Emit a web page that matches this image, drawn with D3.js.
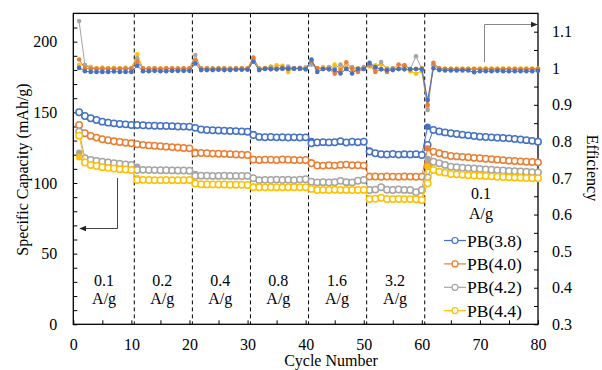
<!DOCTYPE html>
<html><head><meta charset="utf-8">
<script src="https://cdn.jsdelivr.net/npm/d3@7"></script>
<style>html,body{margin:0;padding:0;background:#fff;}svg{display:block;}svg text{font-family:"Liberation Serif","Times New Roman",serif;}</style>
</head><body>
<svg id="chart" width="602" height="370" font-family="Liberation Serif, Times New Roman, serif"></svg>
<script>
// ---------- DATA ----------
const cycles = d3.range(1, 81);
const seriesNames = ["PB(3.8)", "PB(4.0)", "PB(4.2)", "PB(4.4)"];
const seriesColors = ["#4472C4", "#ED7D31", "#A5A5A5", "#FFC000"];

const cap38 = [150,147.4,145.8,144.6,143.4,142.7,142.2,141.7,141.5,141.0,
 141.0,140.8,140.6,140.5,140.4,140.3,140.2,140.0,139.9,139.8,
 139.0,137.8,137.5,137.3,137.1,137.0,136.8,136.7,136.5,136.3,
 134.0,132.6,132.4,132.5,132.3,132.4,132.2,132.3,132.2,132.3,
 128.1,128.6,128.9,128.7,128.8,129.6,128.6,129.2,128.8,129.2,
 122.2,121.0,120.3,120.2,120.5,120.1,120.3,120.2,120.4,119.8,
 127.0,137.5,136.5,135.8,135.2,134.7,134.2,133.7,133.2,132.8,
 132.5,132.3,132.0,131.8,131.6,131.2,130.8,130.3,129.8,129.2];
const cap40 = [141.0,135.2,133.3,132.1,130.9,130.2,129.5,129.0,128.5,128.1,
 127.4,127.0,126.6,126.3,126.0,125.7,125.4,125.1,124.8,124.5,
 121.0,121.2,121.0,120.8,120.7,120.6,120.4,120.2,120.0,119.8,
 116.5,116.3,116.5,116.4,116.3,116.6,116.4,116.3,116.2,116.3,
 114.0,112.4,112.3,112.5,112.3,112.8,113.0,112.5,112.6,112.3,
 104.5,104.6,104.4,104.6,104.5,104.4,104.6,104.5,104.4,104.5,
 112.0,122.2,121.0,120.0,119.1,118.8,118.5,118.2,117.8,117.5,
 117.2,116.9,116.5,116.2,115.8,115.6,115.3,115.0,114.8,114.6];
const cap42 = [136.3,117.5,116.3,115.6,115.0,114.6,114.0,113.6,113.2,112.8,
 109.2,109.3,109.2,109.1,109.0,109.0,108.9,108.8,108.8,108.7,
 105.0,105.2,105.1,105.0,105.0,105.1,105.0,105.0,104.9,105.0,
 103.3,102.0,102.2,102.1,102.4,102.1,102.3,102.0,102.4,102.6,
 100.9,100.4,100.6,100.3,100.5,101.5,100.6,100.4,101.6,102.1,
 95.0,95.3,97.0,95.2,95.0,95.4,95.1,95.0,93.5,95.0,
 104.0,115.0,114.0,112.8,111.5,111.2,110.8,110.5,110.2,109.9,
 109.6,109.4,109.1,108.8,108.5,108.3,108.1,107.9,107.7,107.5];
const cap44 = [133.5,114.5,112.7,112.0,111.2,110.7,110.2,109.8,109.5,109.2,
 102.1,102.2,102.1,102.0,102.0,102.1,102.0,102.0,102.0,102.1,
 99.6,99.1,99.0,99.0,98.9,98.9,98.8,98.8,98.7,98.6,
 97.0,97.0,96.9,97.0,97.0,96.9,97.0,97.0,96.9,97.0,
 95.8,95.0,95.1,95.0,95.2,95.0,95.1,95.0,95.0,95.1,
 88.7,88.8,89.6,88.7,88.6,88.7,88.6,88.6,88.5,88.0,
 99.8,109.2,108.0,107.3,106.4,106.1,105.8,105.5,105.3,105.2,
 104.9,104.7,104.4,104.2,104.0,103.8,103.7,103.5,103.4,103.3];

// visible filled (charge) capacity points: [cycle, value]
const charge38 = [[11,141.0],[21,139.2],[31,134.5],[41,129.8],[51,123.0],[60,119.8],[61,139.8],[62,137.5]];
const charge40 = [[21,122.2],[31,117.0],[41,114.5],[51,105.2],[60,104.5],[61,124.5],[62,122.2]];
const charge42 = [[1,121.4],[2,117.5],[11,111.5],[21,106.4],[31,103.5],[60,95.0],[61,117.0],[62,115.0]];
const charge44 = [[1,118.2],[2,114.5],[11,103.3],[21,99.8],[31,97.3],[60,88.0],[61,111.5],[62,109.2]];

const eff38 = [1.001,0.992,0.990,0.990,0.990,0.990,0.991,0.990,0.990,0.990,
 1.007,0.992,0.992,0.993,0.992,0.992,0.993,0.993,0.993,0.993,
 1.013,0.995,0.995,0.995,0.996,0.995,0.995,0.996,0.996,0.996,
 1.018,0.995,0.998,0.998,0.997,0.999,0.999,0.999,0.999,0.997,
 1.024,0.990,0.998,0.997,0.995,0.986,0.998,0.986,0.998,0.998,
 1.015,1.003,0.997,0.995,0.995,0.998,0.997,0.997,0.998,0.997,
 0.913,1.000,0.995,0.994,0.994,0.994,0.994,0.994,0.989,0.992,
 0.992,0.992,0.993,0.992,0.992,0.992,0.992,0.992,0.992,0.993];
const eff40 = [1.024,1.000,0.998,0.999,0.998,0.999,0.998,0.999,0.998,0.999,
 1.018,0.999,0.998,0.999,0.998,0.999,0.999,0.998,0.999,0.999,
 1.022,0.999,0.999,0.998,0.999,0.999,0.998,0.999,0.999,0.999,
 1.029,0.998,1.000,0.997,0.999,1.002,0.998,1.000,0.999,0.998,
 1.020,1.000,0.998,0.998,0.985,0.995,1.016,0.998,0.990,0.998,
 1.010,0.990,0.998,0.990,0.998,1.010,1.008,0.998,0.998,1.000,
 0.900,1.015,1.000,0.998,0.998,0.997,0.998,0.997,0.998,0.997,
 0.998,0.998,0.997,0.998,0.998,0.998,0.997,0.998,0.998,0.998];
const eff42 = [1.129,1.009,1.000,0.998,0.999,0.998,0.999,0.998,0.999,0.999,
 1.027,0.999,0.999,0.999,0.998,0.999,0.999,0.999,0.999,0.999,
 1.036,0.999,0.999,0.999,0.999,0.999,0.999,0.999,0.999,0.999,
 1.026,0.999,1.000,1.003,1.000,0.999,1.005,0.999,1.000,1.000,
 1.010,1.000,0.999,1.003,0.999,1.010,0.999,1.003,0.999,1.003,
 1.008,0.998,1.017,0.998,1.000,0.998,1.008,0.998,1.033,0.998,
 0.886,1.008,0.998,0.998,0.998,0.998,0.998,0.998,0.998,0.998,
 0.998,0.998,0.998,0.998,0.998,0.998,0.998,0.998,0.998,0.998];
const eff44 = [1.009,1.009,1.004,1.000,1.002,1.000,1.001,1.000,1.002,1.000,
 1.038,1.000,1.000,1.000,1.000,1.000,1.000,1.000,1.000,1.000,
 1.018,1.000,1.000,1.000,1.000,1.000,1.000,1.000,1.000,1.000,
 1.022,1.000,1.000,1.005,1.008,1.007,0.990,1.000,1.002,1.003,
 1.012,1.000,1.003,1.000,1.010,1.000,1.003,1.000,1.000,1.000,
 1.005,1.008,1.010,1.000,1.000,0.998,1.000,0.992,0.985,0.992,
 0.895,1.010,0.999,0.999,0.999,0.999,0.999,0.999,0.999,0.999,
 0.999,0.999,0.999,0.999,0.999,0.999,0.999,0.999,0.999,0.999];

const capacities = [cap38, cap40, cap42, cap44];
const charges = [charge38, charge40, charge42, charge44];
const efficiencies = [eff38, eff40, eff42, eff44];

const xTicks = [0,10,20,30,40,50,60,70,80];
const xMinorTicks = [5,15,25,35,45,55,65,75];
const yLeftTicks = [0,50,100,150,200];
const yLeftMinor = [10,20,30,40,60,70,80,90,110,120,130,140,160,170,180,190,210];
const yRightTicks = [0.3,0.4,0.5,0.6,0.7,0.8,0.9,1.0,1.1];
const yRightTickLabels = ["0.3","0.4","0.5","0.6","0.7","0.8","0.9","1","1.1"];
const yRightMinor = [0.35,0.45,0.55,0.65,0.75,0.85,0.95,1.05];
const stepBoundaries = [10.5,20.5,30.5,40.5,50.5,60.5];
const stepRates = ["0.1","0.2","0.4","0.8","1.6","3.2"];
const stepCenters = [5.3,15.3,25.3,35.3,45.4,55.4];
const finalRate = "0.1";

// ---------- CHART ----------
const FONT = "Liberation Serif, Times New Roman, serif";
const svg = d3.select("#chart");
const x = d3.scaleLinear().domain([0,80]).range([73.3,538]);
const yL = d3.scaleLinear().domain([0,220]).range([324.3,13.4]);
const yR = d3.scaleLinear().domain([0.3,1.15]).range([324.3,13.4]);
const FS = 16;

// dashed step lines
svg.append("g").selectAll("line").data(stepBoundaries).join("line")
  .attr("x1", d=>x(d)).attr("x2", d=>x(d)).attr("y1", yL.range()[1]).attr("y2", yL.range()[0])
  .attr("stroke","#000").attr("stroke-width",1).attr("stroke-dasharray","4,3");

// axes
function styleAxis(g){
  g.select(".domain").remove();
  g.attr("font-family", FONT);
  g.selectAll(".tick line").attr("stroke","#000").attr("stroke-width",1);
  g.selectAll("text").attr("font-size",FS).attr("fill","#000").attr("font-family",FONT);
}
svg.append("g").attr("transform",`translate(0,${yL.range()[0]})`)
  .call(d3.axisBottom(x).tickValues(xTicks).tickSize(-4).tickPadding(14).tickFormat(d3.format("d"))).call(styleAxis);
svg.append("g").attr("transform",`translate(0,${yL.range()[0]})`)
  .call(d3.axisBottom(x).tickValues(xMinorTicks).tickSize(-4).tickFormat("")).call(styleAxis);
svg.append("g").attr("transform",`translate(${x.range()[0]},0)`)
  .call(d3.axisLeft(yL).tickValues(yLeftTicks).tickSize(-4).tickPadding(16)).call(styleAxis);
svg.append("g").attr("transform",`translate(${x.range()[0]},0)`)
  .call(d3.axisLeft(yL).tickValues(yLeftMinor).tickSize(-4).tickFormat("")).call(styleAxis);
svg.append("g").attr("transform",`translate(${x.range()[1]},0)`)
  .call(d3.axisRight(yR).tickValues(yRightTicks).tickSize(-4).tickPadding(14)
    .tickFormat((d,i)=>yRightTickLabels[i])).call(styleAxis);
svg.append("g").attr("transform",`translate(${x.range()[1]},0)`)
  .call(d3.axisRight(yR).tickValues(yRightMinor).tickSize(-4).tickFormat("")).call(styleAxis);

// frame
svg.append("rect").attr("x",x.range()[0]).attr("y",yL.range()[1])
  .attr("width",x.range()[1]-x.range()[0]).attr("height",yL.range()[0]-yL.range()[1])
  .attr("fill","none").attr("stroke","#000").attr("stroke-width",1.3);

// capacity series
const lineL = d3.line().x(d=>x(d[0])).y(d=>yL(d[1]));
capacities.forEach((arr,si)=>{
  const col = seriesColors[si];
  const pts = arr.map((v,i)=>[cycles[i], v]);
  const g = svg.append("g");
  const ch = charges[si];
  for(let k=1;k<ch.length;k++){
    if(ch[k][0]-ch[k-1][0]===1){
      g.append("path").attr("d", lineL([ch[k-1],ch[k]])).attr("fill","none").attr("stroke",col).attr("stroke-width",1);
    }
  }
  g.selectAll("circle.ch").data(ch).join("circle").attr("class","ch")
    .attr("cx",d=>x(d[0])).attr("cy",d=>yL(d[1])).attr("r",3.2).attr("fill",col);
  g.append("path").attr("d", lineL(pts)).attr("fill","none").attr("stroke",col).attr("stroke-width",1);
  g.selectAll("circle.dc").data(pts).join("circle").attr("class","dc")
    .attr("cx",d=>x(d[0])).attr("cy",d=>yL(d[1])).attr("r",3.2)
    .attr("fill","#fff").attr("stroke",col).attr("stroke-width",1.5);
});

// efficiency series (blue drawn last)
const lineR = d3.line().x(d=>x(d[0])).y(d=>yR(d[1]));
[3,2,1,0].forEach(si=>{
  const col = seriesColors[si];
  const pts = efficiencies[si].map((v,i)=>[cycles[i], v]);
  const g = svg.append("g");
  g.append("path").attr("d", lineR(pts)).attr("fill","none").attr("stroke",col).attr("stroke-width",1);
  g.selectAll("circle").data(pts).join("circle")
    .attr("cx",d=>x(d[0])).attr("cy",d=>yR(d[1])).attr("r",2.3).attr("fill",col);
});

// step labels
const stepG = svg.append("g").attr("font-size",FS).attr("font-family",FONT).attr("text-anchor","middle").attr("fill","#000");
stepRates.forEach((r,i)=>{
  stepG.append("text").attr("x",x(stepCenters[i])).attr("y",286).text(r);
  stepG.append("text").attr("x",x(stepCenters[i])).attr("y",304).text("A/g");
});
stepG.append("text").attr("x",x(70.2)).attr("y",199).text(finalRate);
stepG.append("text").attr("x",x(70.2)).attr("y",219).text("A/g");

// legend
const leg = svg.append("g").attr("font-family",FONT);
seriesNames.forEach((n,i)=>{
  const cy = 240.5 + i*23.4;
  leg.append("line").attr("x1",444).attr("x2",466).attr("y1",cy).attr("y2",cy)
    .attr("stroke",seriesColors[i]).attr("stroke-width",1.2);
  leg.append("circle").attr("cx",455).attr("cy",cy).attr("r",3).attr("fill","#fff")
    .attr("stroke",seriesColors[i]).attr("stroke-width",1.2);
  leg.append("text").attr("x",467).attr("y",cy).attr("dy","0.35em").attr("font-size",17.5).attr("fill","#000").text(n);
});

// arrows
const defs = svg.append("defs");
defs.append("marker").attr("id","ah").attr("viewBox","0 0 10 10").attr("refX",9).attr("refY",5)
  .attr("markerWidth",7).attr("markerHeight",7).attr("orient","auto-start-reverse")
  .append("path").attr("d","M0,1 L10,5 L0,9 z").attr("fill","#222");
svg.append("path").attr("d","M117.5,178 L117.5,228.5 L80,228.5").attr("fill","none")
  .attr("stroke","#444").attr("stroke-width",1).attr("marker-end","url(#ah)");
svg.append("path").attr("d","M484.5,62 L484.5,24.5 L537,24.5").attr("fill","none")
  .attr("stroke","#888").attr("stroke-width",1).attr("marker-end","url(#ah)");

// axis titles
svg.append("text").attr("transform","translate(28,169.5) rotate(-90)").attr("text-anchor","middle")
  .attr("font-family",FONT).attr("font-size",FS).attr("fill","#000").text("Specific Capacity (mAh/g)");
svg.append("text").attr("transform","translate(587,168) rotate(90)").attr("text-anchor","middle")
  .attr("font-family",FONT).attr("font-size",FS).attr("fill","#000").text("Efficiency");
svg.append("text").attr("x",331).attr("y",366).attr("text-anchor","middle")
  .attr("font-family",FONT).attr("font-size",FS).attr("fill","#000").text("Cycle Number");
</script>
</body></html>
